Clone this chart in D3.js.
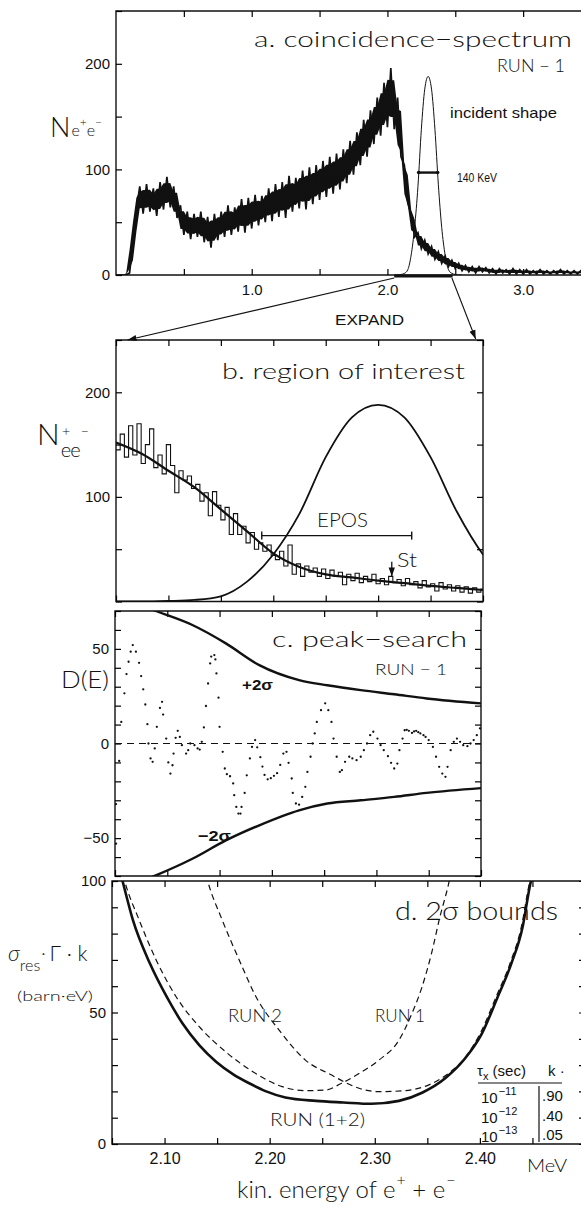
<!DOCTYPE html>
<html>
<head>
<meta charset="utf-8">
<script src="https://cdn.jsdelivr.net/npm/d3@7"></script>
<style>
    body { margin: 0; background: #fff; }
    svg { display: block; }
    text { fill: #111; }
    .thin { font-family: Lato, "Noto Sans", "DejaVu Sans", sans-serif; font-weight: 300; }
    .plain { font-family: "Liberation Sans", Arial, sans-serif; }
</style>
</head>
<body>
<div id="chart"></div>
<script>
const width = 581;
const height = 1208;

// ---------------- data ----------------

// a. coincidence spectrum, channels of 0.025 MeV starting at 0
const specStep = 0.025;
const specCounts = [
    0, 0, 0, 0, 2, 30, 62, 84, 58, 86, 60, 82, 56, 88, 62, 93, 64, 84, 54, 66,
    38, 60, 34, 58, 36, 60, 31, 55, 26, 58, 33, 60, 36, 66, 38, 64, 41, 72, 40, 73,
    44, 76, 47, 75, 50, 82, 51, 86, 55, 88, 54, 94, 60, 92, 63, 99, 62, 102, 67, 104,
    71, 108, 74, 112, 77, 115, 81, 119, 87, 127, 95, 135, 104, 147, 112, 156, 124, 168, 132, 182,
    140, 196, 138, 168, 112, 104, 68, 57, 36, 40, 25, 33, 20, 27, 15, 22, 11, 18, 8, 14,
    6, 11, 4, 9, 3, 8, 2, 8, 3, 7, 2, 6, 1, 6, 2, 5, 1, 6, 1, 5,
    1, 5, 1, 4, 1, 5, 1, 4, 1, 4, 1, 5, 1, 4, 1, 4, 1, 4, 1
];

// incident line shape (same curve in a and b)
const incidentE = [2.05, 2.075, 2.10, 2.125, 2.15, 2.175, 2.20, 2.225, 2.25, 2.275, 2.30,
    2.325, 2.35, 2.375, 2.40, 2.425, 2.45, 2.475, 2.50, 2.525, 2.55];
const incidentN = [0, 0, 0.5, 1.5, 5, 19, 45, 84, 138, 176, 188,
    176, 138, 86, 45, 19, 5, 1.5, 0.5, 0, 0];
const fwhmRange = [2.23, 2.37];
const fwhmLevel = 97;
const expandRange = [2.05, 2.48];

// b. region of interest, bins of 0.004 MeV starting at 2.05
const roiStart = 2.05;
const roiStep = 0.004;
const roiCounts = [
    145, 160, 138, 168, 140, 170, 132, 150, 165, 128,
    140, 122, 150, 130, 104, 125, 116, 120, 108, 112,
    96, 104, 82, 105, 92, 78, 90, 64, 84, 64,
    72, 56, 66, 50, 56, 48, 54, 44, 40, 48,
    34, 54, 26, 36, 24, 34, 28, 32, 24, 31,
    22, 30, 24, 28, 16, 26, 20, 27, 18, 24,
    19, 26, 17, 22, 16, 24, 18, 21, 15, 22,
    16, 19, 13, 20, 14, 17, 10, 18, 12, 16,
    10, 15, 9, 14, 8, 13, 9, 12
];
const fitE = [2.05, 2.075, 2.10, 2.125, 2.15, 2.175, 2.20, 2.225, 2.25, 2.275, 2.30, 2.325, 2.35, 2.375, 2.40];
const fitN = [152, 141, 125, 109, 88, 67, 46, 33, 26, 23, 20, 17.5, 15, 13, 11];
const eposRange = [2.189, 2.332];
const eposLevel = 63;
const stEnergy = 2.313;

// c. peak search
const sigmaE = [2.060, 2.089, 2.124, 2.156, 2.188, 2.226, 2.253, 2.285, 2.317, 2.348, 2.400];
const sigmaUp = [76, 70, 62.6, 52.9, 41.4, 33.5, 30.8, 28.2, 26, 23.8, 21.2];
const sigmaLo = [-76, -69.7, -60.9, -51.2, -43.2, -35.3, -31.7, -30, -28.2, -26.1, -23.6];
const peakPts = [
    [2.051, -52.9], [2.051, -32], [2.054, -9.2], [2.056, 11.4], [2.059, 26.5], [2.061, 36.7],
    [2.063, 43.2], [2.065, 48.5], [2.067, 52], [2.070, 48.5], [2.073, 42.6], [2.075, 35.6],
    [2.077, 28.6], [2.079, 20.6], [2.081, 10.2], [2.082, 0], [2.084, -7.9], [2.086, -9.7],
    [2.088, -2.6], [2.090, 8.8], [2.093, 18.8], [2.095, 22], [2.096, 15.3], [2.099, 2.6],
    [2.101, -10], [2.103, -15.9], [2.105, -11.5], [2.106, -5.3], [2.108, 3], [2.110, 6.7],
    [2.112, 3.5], [2.114, -0.9], [2.118, -5.3], [2.120, -3.5], [2.122, 0], [2.126, -0.9],
    [2.129, -2.6], [2.131, -3.2], [2.133, 0.9], [2.135, 8.5], [2.137, 19.8], [2.139, 31.7],
    [2.141, 42.3], [2.142, 45.9], [2.145, 46.7], [2.146, 44.4], [2.147, 37], [2.149, 24.2],
    [2.150, 8.8], [2.153, -4.4], [2.155, -13.2], [2.157, -16.2], [2.160, -17.3], [2.163, -21.1],
    [2.164, -27.3], [2.166, -33.5], [2.168, -37], [2.170, -37], [2.171, -33.5], [2.174, -26.1],
    [2.176, -16.8], [2.179, -7.9], [2.181, -1.8], [2.184, 1.8], [2.186, -2], [2.189, -7.2],
    [2.191, -12.2], [2.193, -16.6], [2.196, -18.9], [2.199, -18.3], [2.202, -17.1], [2.205, -15.7],
    [2.208, -11.3], [2.211, -5.3], [2.214, -4.4], [2.216, -10.2], [2.219, -18.5], [2.220, -26.1],
    [2.223, -31.7], [2.226, -32.3], [2.229, -28.2], [2.232, -22.9], [2.234, -15], [2.237, -7],
    [2.239, 0], [2.241, 5.3], [2.243, 11.4], [2.247, 17.6], [2.251, 21.2], [2.254, 17.6],
    [2.257, 11.4], [2.259, 2.6], [2.262, -7], [2.265, -15], [2.267, -14.1], [2.270, -9.7],
    [2.274, -7], [2.277, -7.9], [2.281, -8.8], [2.285, -7], [2.288, -3.5], [2.291, 0],
    [2.294, 4.4], [2.297, 6.2], [2.301, 2.6], [2.304, -0.9], [2.307, -3.5], [2.311, -6.7],
    [2.314, -10.2], [2.317, -13.2], [2.320, -10.6], [2.322, -3.5], [2.325, 2.6], [2.327, 7],
    [2.329, 7.2], [2.331, 6.7], [2.334, 5.6], [2.336, 6.4], [2.338, 6.7], [2.340, 6],
    [2.342, 5.3], [2.345, 4.4], [2.347, 3.5], [2.350, 1.8], [2.354, -1.8], [2.357, -7],
    [2.360, -12.3], [2.363, -15.9], [2.366, -17.6], [2.368, -12.3], [2.371, -3.5], [2.374, 0.9],
    [2.377, 2.6], [2.380, 0.9], [2.383, -0.9], [2.387, -1.4], [2.390, 0], [2.393, 1.8],
    [2.396, 4.4], [2.399, 8]
];

// d. 2 sigma bounds
const run12E = [2.056, 2.060, 2.070, 2.086, 2.102, 2.117, 2.133, 2.149, 2.165, 2.181, 2.196, 2.215,
    2.244, 2.270, 2.297, 2.323, 2.345, 2.367, 2.386, 2.402, 2.417, 2.430, 2.441, 2.447, 2.452];
const run12N = [106, 100, 85, 68.7, 56, 45.9, 37.6, 31.3, 26.6, 23, 20.1, 17.7,
    16.4, 15.8, 15.3, 16.4, 19.5, 25, 32.6, 42.1, 56, 68.7, 83.2, 97, 106];
const run1E = [2.058, 2.062, 2.076, 2.092, 2.111, 2.133, 2.158, 2.184, 2.212, 2.234, 2.253, 2.268,
    2.285, 2.304, 2.323, 2.334, 2.345, 2.354, 2.362, 2.370, 2.374];
const run1N = [106, 100, 85, 70, 56, 44.6, 35.1, 27.5, 21.8, 20.3, 20.5, 23,
    26.8, 31.9, 39.5, 48.4, 59.8, 72.5, 86.4, 98.5, 106];
const run2E = [2.137, 2.141, 2.155, 2.171, 2.187, 2.209, 2.234, 2.259, 2.274, 2.285, 2.304, 2.329,
    2.351, 2.370, 2.386, 2.401, 2.416, 2.429, 2.440, 2.446, 2.451];
const run2N = [106, 100, 85, 70, 56, 43.3, 31.9, 26.2, 23, 21.2, 19.9, 20.3,
    22.4, 26.8, 32.9, 42.6, 56.5, 69, 83.6, 97, 106];
const tauExp = ["−11", "−12", "−13"];
const kValues = [".90", ".40", ".05"];

// ---------------- scales ----------------
const xA = d3.scaleLinear().domain([0, 3.5]).range([116, 591]);
const yA = d3.scaleLinear().domain([0, 250]).range([275, 11]);
const xB = d3.scaleLinear().domain([2.05, 2.40]).range([116, 483]);
const yB = d3.scaleLinear().domain([0, 250]).range([601.5, 340]);
const xC = d3.scaleLinear().domain([2.05, 2.40]).range([115, 481]);
const yC = d3.scaleLinear().domain([-70, 70]).range([876, 611]);
const xD = d3.scaleLinear().domain([2.05, 2.50]).range([112, 585]);
const yD = d3.scaleLinear().domain([0, 100]).range([1144, 881]);

const svg = d3
    .select("#chart")
    .append("svg")
    .attr("width", width)
    .attr("height", height);

const defs = svg.append("defs");
defs.append("marker")
    .attr("id", "arrow")
    .attr("viewBox", "0 0 10 10")
    .attr("refX", 10)
    .attr("refY", 5)
    .attr("markerWidth", 9)
    .attr("markerHeight", 9)
    .attr("markerUnits", "userSpaceOnUse")
    .attr("orient", "auto")
    .append("path")
    .attr("d", "M0,1.5L10,5L0,8.5Z")
    .attr("fill", "#111");

function clipFor(id, x, y) {
    const [x0, x1] = x.range();
    const [y0, y1] = y.range();
    defs.append("clipPath").attr("id", id)
        .append("rect")
        .attr("x", x0).attr("y", y1)
        .attr("width", x1 - x0).attr("height", y0 - y1);
    return `url(#${id})`;
}

// frame lines + inward ticks
function frame(x, y, opt) {
    const [x0, x1] = x.range();
    const [y0, y1] = y.range();
    const g = svg.append("g");
    const right = Math.min(x1, width + 5);
    g.append("path")
        .attr("d", opt.noRight
            ? `M${right},${y1}H${x0}V${y0}H${right}`
            : `M${x0},${y1}H${x1}V${y0}H${x0}Z`)
        .attr("fill", "none")
        .attr("stroke", "#111")
        .attr("stroke-width", 1.4);

    const tickG = (axis, tx, ty) => g.append("g")
        .attr("transform", `translate(${tx},${ty})`)
        .call(axis)
        .call((s) => s.select(".domain").remove())
        .call((s) => s.selectAll("line").attr("stroke-width", 1.2));

    tickG(d3.axisBottom(x).tickValues(opt.xTicks).tickSize(-6).tickFormat(""), 0, y0);
    tickG(d3.axisTop(x).tickValues(opt.xTicks).tickSize(-6).tickFormat(""), 0, y1);
    tickG(d3.axisLeft(y).tickValues(opt.yTicks).tickSize(-6).tickFormat(""), x0, 0);
    if (!opt.noRight) {
        tickG(d3.axisRight(y).tickValues(opt.yTicks).tickSize(-6).tickFormat(""), x1, 0);
    }
    return g;
}

function yLabels(x, y, vals, size) {
    svg.append("g")
        .attr("transform", `translate(${x.range()[0]},0)`)
        .call(d3.axisLeft(y).tickValues(vals).tickSize(0).tickPadding(6))
        .call((s) => s.select(".domain").remove())
        .attr("font-family", "'Liberation Sans', Arial, sans-serif")
        .attr("font-size", size);
}

function xLabels(x, y, vals, fmt, size, pad) {
    svg.append("g")
        .attr("transform", `translate(0,${y.range()[0]})`)
        .call(d3.axisBottom(x).tickValues(vals).tickSize(0).tickPadding(pad).tickFormat(d3.format(fmt)))
        .call((s) => s.select(".domain").remove())
        .attr("font-family", "'Liberation Sans', Arial, sans-serif")
        .attr("font-size", size);
}

function label(txt, x, y, size, cls, len, extra) {
    const t = svg.append("text")
        .attr("class", cls)
        .attr("x", x)
        .attr("y", y)
        .attr("font-size", size)
        .text(txt);
    if (len) t.attr("textLength", len).attr("lengthAdjust", "spacingAndGlyphs");
    if (extra) extra(t);
    return t;
}

// one text element built from [text, size, dx, dy] pieces
function richLabel(x, y, cls, parts) {
    const t = svg.append("text").attr("class", cls).attr("x", x).attr("y", y);
    parts.forEach(([txt, size, dx, dy, style]) => {
        const s = t.append("tspan").attr("font-size", size).attr("dx", dx).attr("dy", dy).text(txt);
        if (style) s.attr("font-style", style);
    });
    return t;
}

const lineOf = (x, y, curve) => d3.line().x((d) => x(d[0])).y((d) => y(d[1])).curve(curve || d3.curveLinear);
const zip = (a, b) => a.map((v, i) => [v, b[i]]);

// ================= a. coincidence spectrum =================
const clipA = clipFor("clipA", xA, yA);
frame(xA, yA, {
    xTicks: d3.range(0.5, 3.51, 0.5),
    yTicks: d3.range(0, 251, 50),
    noRight: true,
});
yLabels(xA, yA, [0, 100, 200], 15);
xLabels(xA, yA, [1, 2, 3], ".1f", 15, 9);

const specPts = specCounts.map((v, i) => [i * specStep, v]);
// dark core of the noisy band, inside the spread of neighbouring channels
const corePts = specPts.map((d, i) => {
    const w = specPts.slice(Math.max(0, i - 1), i + 2).map((p) => p[1]);
    const lo = d3.min(w), hi = d3.max(w), r = hi - lo;
    return { e: d[0], lo: lo + 0.2 * r, hi: hi - 0.2 * r };
});
const plotA = svg.append("g").attr("clip-path", clipA);
plotA.append("path")
    .datum(corePts)
    .attr("d", d3.area().curve(d3.curveLinear)
        .x((d) => xA(d.e)).y0((d) => yA(d.lo)).y1((d) => yA(d.hi)))
    .attr("fill", "#111");
plotA.append("path")
    .datum(specPts)
    .attr("d", lineOf(xA, yA, d3.curveLinear))
    .attr("fill", "none")
    .attr("stroke", "#111")
    .attr("stroke-width", 1.7);
plotA.append("path")
    .datum(zip(incidentE, incidentN))
    .attr("d", lineOf(xA, yA, d3.curveMonotoneX))
    .attr("fill", "none")
    .attr("stroke", "#111")
    .attr("stroke-width", 1);

// FWHM marker
svg.append("line")
    .attr("x1", xA(fwhmRange[0])).attr("x2", xA(fwhmRange[1]))
    .attr("y1", yA(fwhmLevel)).attr("y2", yA(fwhmLevel))
    .attr("stroke", "#111").attr("stroke-width", 2.4);
svg.selectAll("circle.fwhm")
    .data(fwhmRange)
    .join("circle")
    .attr("class", "fwhm")
    .attr("cx", (d) => xA(d)).attr("cy", yA(fwhmLevel)).attr("r", 1.8)
    .attr("fill", "#111");

// expanded range bar + arrows to panel b
svg.append("line")
    .attr("x1", xA(expandRange[0])).attr("x2", xA(expandRange[1]))
    .attr("y1", yA(0) + 1).attr("y2", yA(0) + 1)
    .attr("stroke", "#111").attr("stroke-width", 3);
svg.append("line")
    .attr("x1", xA(expandRange[0])).attr("y1", yA(0) + 3)
    .attr("x2", xB(2.061)).attr("y2", yB(250))
    .attr("stroke", "#111").attr("stroke-width", 1.1)
    .attr("marker-end", "url(#arrow)");
svg.append("line")
    .attr("x1", xA(2.475)).attr("y1", yA(0) + 3)
    .attr("x2", xB(2.393)).attr("y2", yB(250) - 1)
    .attr("stroke", "#111").attr("stroke-width", 1.1)
    .attr("marker-end", "url(#arrow)");

label("a. coincidence−spectrum", 254, 47, 22, "thin", 318);
label("RUN − 1", 497, 72, 17, "thin", 68);
label("incident shape", 450, 118, 15, "plain", 107);
label("140 KeV", 457, 182, 12, "plain", 40);
label("EXPAND", 335, 325, 14, "plain", 69);

// y label N e+e-
richLabel(50, 137, "thin", [
    ["N", 27, 0, 0],
    ["e", 16, 1, -1],
    ["+", 12, 0, -10],
    ["e", 16, 0, 10],
    ["−", 12, 0, -10],
]);

// ================= b. region of interest =================
const clipB = clipFor("clipB", xB, yB);
frame(xB, yB, {
    xTicks: d3.range(2.05, 2.401, 0.05),
    yTicks: d3.range(0, 251, 50),
});
yLabels(xB, yB, [100, 200], 15);

const plotB = svg.append("g").attr("clip-path", clipB);
const histPts = roiCounts.map((v, i) => [roiStart + i * roiStep, v]);
histPts.push([roiStart + roiCounts.length * roiStep, roiCounts[roiCounts.length - 1]]);
plotB.append("path")
    .datum(histPts)
    .attr("d", lineOf(xB, yB, d3.curveStepAfter))
    .attr("fill", "none")
    .attr("stroke", "#111")
    .attr("stroke-width", 1.1);
plotB.append("path")
    .datum(zip(fitE, fitN))
    .attr("d", lineOf(xB, yB, d3.curveMonotoneX))
    .attr("fill", "none")
    .attr("stroke", "#111")
    .attr("stroke-width", 2.2);
plotB.append("path")
    .datum(zip(incidentE, incidentN))
    .attr("d", lineOf(xB, yB, d3.curveMonotoneX))
    .attr("fill", "none")
    .attr("stroke", "#111")
    .attr("stroke-width", 1.8);

// EPOS range
svg.append("line")
    .attr("x1", xB(eposRange[0])).attr("x2", xB(eposRange[1]))
    .attr("y1", yB(eposLevel)).attr("y2", yB(eposLevel))
    .attr("stroke", "#111").attr("stroke-width", 1.4);
svg.selectAll("line.eposcap")
    .data(eposRange)
    .join("line")
    .attr("class", "eposcap")
    .attr("x1", (d) => xB(d)).attr("x2", (d) => xB(d))
    .attr("y1", yB(eposLevel) - 4).attr("y2", yB(eposLevel) + 4)
    .attr("stroke", "#111").attr("stroke-width", 1.4);
label("EPOS", 317, 527, 19, "thin", 51);

// St marker
svg.append("line")
    .attr("x1", xB(stEnergy)).attr("x2", xB(stEnergy))
    .attr("y1", yB(38)).attr("y2", yB(24))
    .attr("stroke", "#111").attr("stroke-width", 1.3)
    .attr("marker-end", "url(#arrow)");
label("St", 397, 567, 19, "thin", 20);

label("b. region of interest", 222, 379, 22, "thin", 243);
richLabel(37, 445, "thin", [
    ["N", 30, 0, 0],
    ["e", 20, 1, 12],
    ["+", 14, -9, -21],
    ["e", 20, 0, 21],
    ["−", 14, 0, -21],
]);

// ================= c. peak search =================
const clipC = clipFor("clipC", xC, yC);
frame(xC, yC, {
    xTicks: d3.range(2.05, 2.401, 0.05),
    yTicks: d3.range(-70, 71, 10),
});
yLabels(xC, yC, [-50, 0, 50], 15);

const plotC = svg.append("g").attr("clip-path", clipC);
plotC.append("line")
    .attr("x1", xC(2.05)).attr("x2", xC(2.40))
    .attr("y1", yC(0)).attr("y2", yC(0))
    .attr("stroke", "#111").attr("stroke-width", 1.2)
    .attr("stroke-dasharray", "7,5");
[sigmaUp, sigmaLo].forEach((vals) => {
    plotC.append("path")
        .datum(zip(sigmaE, vals))
        .attr("d", lineOf(xC, yC, d3.curveMonotoneX))
        .attr("fill", "none")
        .attr("stroke", "#111")
        .attr("stroke-width", 2.4);
});
plotC.selectAll("circle.pk")
    .data(peakPts)
    .join("circle")
    .attr("class", "pk")
    .attr("cx", (d) => xC(d[0]))
    .attr("cy", (d) => yC(d[1]))
    .attr("r", 1.15)
    .attr("fill", "#111");

label("c. peak−search", 272, 647, 22, "thin", 195);
label("RUN − 1", 375, 675, 16, "thin", 72);
label("+2σ", 242, 690, 15, "plain", 31, (t) => t.attr("font-weight", 700));
label("−2σ", 198, 841, 15, "plain", 33, (t) => t.attr("font-weight", 700));
label("D(E)", 61, 688, 24, "thin", 48);

// ================= d. 2 sigma bounds =================
const clipD = clipFor("clipD", xD, yD);
frame(xD, yD, {
    xTicks: d3.range(2.05, 2.501, 0.05),
    yTicks: d3.range(0, 101, 10),
});
yLabels(xD, yD, [0, 50, 100], 15);
xLabels(xD, yD, [2.1, 2.2, 2.3, 2.4], ".2f", 16, 9);

const plotD = svg.append("g").attr("clip-path", clipD);
[[run1E, run1N], [run2E, run2N]].forEach(([e, n]) => {
    plotD.append("path")
        .datum(zip(e, n))
        .attr("d", lineOf(xD, yD, d3.curveMonotoneX))
        .attr("fill", "none")
        .attr("stroke", "#111")
        .attr("stroke-width", 1.2)
        .attr("stroke-dasharray", "6,4");
});
plotD.append("path")
    .datum(zip(run12E, run12N))
    .attr("d", lineOf(xD, yD, d3.curveMonotoneX))
    .attr("fill", "none")
    .attr("stroke", "#111")
    .attr("stroke-width", 2.6);

label("d. 2σ bounds", 395, 920, 25, "thin", 163);
label("RUN 2", 228, 1022, 17, "thin", 54);
label("RUN 1", 375, 1022, 17, "thin", 50);
label("RUN (1+2)", 270, 1126, 17, "thin", 95);
label("MeV", 527, 1172, 17, "thin", 40);
richLabel(237, 1198, "thin", [
    ["kin. energy of e", 24, 0, 0],
    ["+", 16, 1, -12],
    [" + e", 24, 0, 12],
    ["−", 16, 1, -12],
]);

// y label sigma_res . Gamma . k
richLabel(8, 961, "thin", [
    ["σ", 22, 0, 0, "italic"],
    ["res", 16, 0, 10],
    ["·", 18, 1, -12],
    ["Γ · k", 21, 4, 2],
]);
label("(barn·eV)", 17, 1001, 14, "thin", 76);

// lifetime table
richLabel(477, 1076, "plain", [
    ["τ", 15, 0, 0],
    ["x", 11, 0, 4],
    [" (sec)", 15, 0, -4],
]);
label("k ·", 548, 1076, 15, "plain");
svg.append("line")
    .attr("x1", 478).attr("x2", 562).attr("y1", 1083).attr("y2", 1083)
    .attr("stroke", "#111").attr("stroke-width", 1.2);
svg.append("line")
    .attr("x1", 539).attr("x2", 539).attr("y1", 1086).attr("y2", 1142)
    .attr("stroke", "#111").attr("stroke-width", 1.2);
tauExp.forEach((ex, i) => {
    richLabel(481, 1103 + i * 19.5, "plain", [
        ["10", 15, 0, 0],
        [ex, 11, 1, -8],
    ]);
    label(kValues[i], 542, 1101 + i * 19.5, 15, "plain");
});
</script>
</body>
</html>
